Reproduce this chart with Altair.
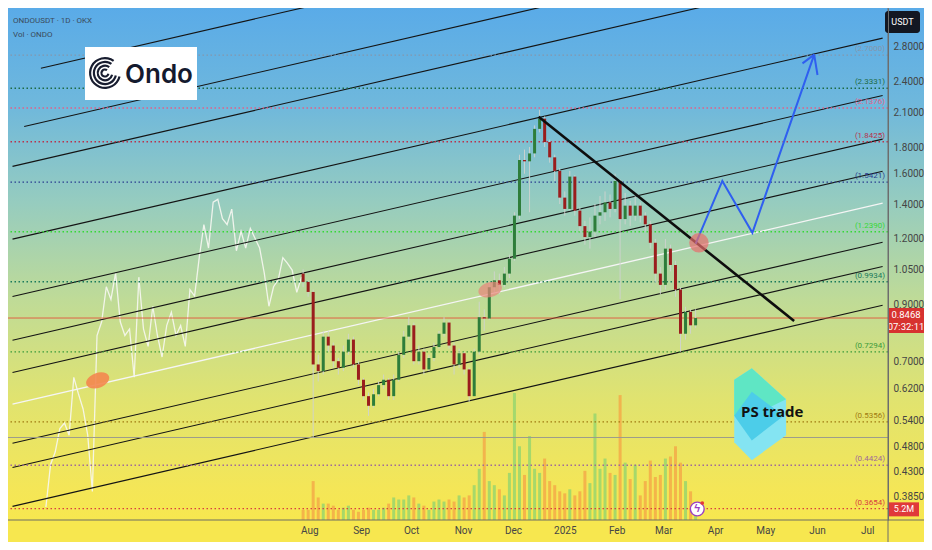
import altair as alt
import pandas as pd

W, H = 880, 512

# 3-day candles, 2024-07-28 .. 2025-03-20
closes = [0.993, 0.95, 0.69, 0.67, 0.78, 0.75, 0.70, 0.68, 0.73, 0.77,
          0.69, 0.645, 0.60, 0.575, 0.605, 0.63, 0.645, 0.60, 0.645, 0.72,
          0.78, 0.82, 0.70, 0.73, 0.675, 0.71, 0.745, 0.79, 0.83, 0.75,
          0.69, 0.725, 0.675, 0.60, 0.73, 0.85, 0.845, 0.97, 1.00, 0.98,
          1.03, 1.10, 1.33, 1.70, 1.69, 1.75, 1.95, 2.04, 1.84, 1.72,
          1.62, 1.44, 1.37, 1.58, 1.36, 1.27, 1.21, 1.24, 1.33, 1.35,
          1.41, 1.37, 1.55, 1.31, 1.39, 1.33, 1.39, 1.33, 1.28, 1.18,
          1.03, 0.98, 1.15, 1.07, 0.96, 0.79, 0.87, 0.82, 0.8468]
highs = [1.05, 1.00, 0.96, 0.72, 0.80, 0.80, 0.76, 0.71, 0.75, 0.79,
         0.78, 0.70, 0.65, 0.61, 0.62, 0.64, 0.66, 0.65, 0.66, 0.73,
         0.80, 0.85, 0.83, 0.75, 0.74, 0.72, 0.76, 0.80, 0.85, 0.84,
         0.76, 0.74, 0.73, 0.68, 0.74, 0.91, 0.88, 0.99, 1.04, 1.03,
         1.06, 1.12, 1.35, 1.74, 1.78, 1.80, 1.98, 2.12, 2.06, 1.86,
         1.74, 1.64, 1.48, 1.62, 1.59, 1.38, 1.30, 1.32, 1.40, 1.45,
         1.48, 1.46, 1.60, 1.56, 1.47, 1.42, 1.45, 1.41, 1.35, 1.30,
         1.20, 1.06, 1.20, 1.17, 1.09, 0.97, 0.89, 0.88, 0.88]
lows = [0.97, 0.93, 0.50, 0.64, 0.66, 0.73, 0.68, 0.66, 0.67, 0.72,
        0.68, 0.63, 0.59, 0.55, 0.57, 0.60, 0.62, 0.59, 0.59, 0.64,
        0.71, 0.77, 0.69, 0.69, 0.66, 0.67, 0.70, 0.74, 0.78, 0.74,
        0.66, 0.68, 0.66, 0.585, 0.60, 0.72, 0.80, 0.84, 0.95, 0.94,
        0.97, 1.01, 1.09, 1.31, 1.60, 1.35, 1.72, 1.92, 1.80, 1.68,
        1.55, 1.40, 1.33, 1.36, 1.33, 1.24, 1.17, 1.15, 1.21, 1.28,
        1.30, 1.32, 1.35, 0.92, 1.28, 1.27, 1.30, 1.29, 1.24, 1.15,
        0.99, 0.94, 0.96, 1.04, 0.93, 0.73, 0.77, 0.79, 0.81]
first_open = 1.03
volumes = [5, 5, 19, 11, 8, 8, 7, 5, 6, 7,
           5, 4, 5, 6, 5, 5, 6, 8, 11, 10,
           10, 12, 11, 8, 7, 5, 9, 10, 9, 10,
           9, 12, 11, 12, 17, 25, 43, 19, 17, 15,
           12, 23, 62, 36, 22, 41, 25, 23, 30, 19,
           17, 14, 13, 15, 12, 14, 24, 18, 52, 25,
           30, 23, 22, 61, 28, 20, 27, 12, 19, 29,
           21, 22, 30, 31, 36, 28, 19, 14, 5.2]

# earlier price history (white line), 2024-02-25 .. 2024-07-27
history = [0.368, 0.444, 0.469, 0.520, 0.533, 0.505, 0.652, 0.606, 0.567, 0.505,
           0.394, 0.784, 0.833, 0.972, 0.919, 1.032, 0.833, 0.784, 0.807, 0.652,
           1.014, 0.807, 0.747, 0.892, 0.784, 0.713, 0.819, 0.869, 0.784, 0.819,
           0.747, 0.960, 0.933, 1.105, 1.279, 1.153, 1.411, 1.429, 1.312, 1.279,
           1.369, 1.139, 1.241, 1.153, 1.257, 1.204, 1.153, 1.032, 0.892, 0.972,
           1.002, 1.105, 1.078, 1.046, 0.948, 1.014]

# rising channel lines
channel_start = ["2024-02-22", "2024-02-12", "2024-02-05", "2024-02-05", "2024-02-05", "2024-02-05",
                 "2024-02-05", "2024-02-05", "2024-02-05", "2024-02-05", "2024-02-05"]
channel_p0 = [2.548, 1.970, 1.653, 1.199, 0.931, 0.768, 0.666, 0.579, 0.4875, 0.438, 0.369]
channel_p1 = [6.00, 4.723, 4.013, 2.910, 2.260, 1.864, 1.618, 1.405, 1.183, 1.063, 0.896]
channel_end = "2025-07-10"
mid_line = 7

level_values = [2.7, 2.3331, 2.1376, 1.8425, 1.5421, 1.239, 0.9934, 0.7294, 0.5356, 0.4424, 0.3654]
level_labels = ["(2.7000)", "(2.3331)", "(2.1376)", "(1.8425)", "(1.5421)", "(1.2390)",
                "(0.9934)", "(0.7294)", "(0.5356)", "(0.4424)", "(0.3654)"]
level_colors = ["#8397ad", "#1d6b46", "#e0608a", "#b8334d", "#2a3d8f", "#36d836",
                "#1a7a5a", "#3a9a3a", "#a07a10", "#a06a9a", "#d84040"]

trend_dates = ["2024-12-16", "2025-05-18"]
trend_prices = [2.057, 0.836]

path_dates = ["2025-03-20", "2025-04-05", "2025-04-23", "2025-05-30"]
path_prices = [1.174, 1.55, 1.233, 2.705]
wing_dates = ["2025-05-23", "2025-06-01"]
wing_prices = [2.603, 2.473]

marker_dates = ["2025-03-22", "2024-11-17", "2024-03-27"]
marker_prices = [1.18, 0.96, 0.643]

last_price = 0.8468
last_volume = 5.2
ref_line = 0.50
y_ticks = [2.8, 2.4, 2.1, 1.8, 1.6, 1.4, 1.2, 1.05, 0.9, 0.7, 0.62, 0.54, 0.48, 0.43, 0.385]
month_dates = ["2024-08-01", "2024-09-01", "2024-10-01", "2024-11-01", "2024-12-01", "2025-01-01",
               "2025-02-01", "2025-03-01", "2025-04-01", "2025-05-01", "2025-06-01", "2025-07-01"]
month_names = ["Aug", "Sep", "Oct", "Nov", "Dec", "2025", "Feb", "Mar", "Apr", "May", "Jun", "Jul"]

# ---- tables ----
dates = pd.date_range("2024-07-28", "2025-03-20", periods=len(closes))
opens = [first_open] + closes[:-1]
candles = pd.DataFrame({"date": dates, "open": opens, "close": closes,
                        "high": highs, "low": lows, "vol": volumes})
candles["dir"] = ["up" if c >= o else "down" for o, c in zip(opens, closes)]

hist = pd.DataFrame({"date": pd.date_range("2024-02-25", "2024-07-27", periods=len(history)),
                     "price": history})

chan = pd.DataFrame({"start": channel_start, "end": [channel_end] * len(channel_start),
                     "p0": channel_p0, "p1": channel_p1})
chan_black = chan.drop(index=mid_line)
chan_white = chan.loc[[mid_line]]

levels = pd.DataFrame({"price": level_values, "label": level_labels})
trend = pd.DataFrame({"d0": [trend_dates[0]], "d1": [trend_dates[1]],
                      "p0": [trend_prices[0]], "p1": [trend_prices[1]]})
path = pd.DataFrame({"date": path_dates, "price": path_prices, "i": range(len(path_dates))})
wings = pd.DataFrame({"d0": [path_dates[-1]] * 2, "p0": [path_prices[-1]] * 2,
                      "d1": wing_dates, "p1": wing_prices})
months = pd.DataFrame({"date": month_dates, "name": month_names})
one = pd.DataFrame({"k": [0]})

xsc = alt.Scale(domain=[alt.DateTime(year=2024, month=2, date=5, hours=7),
                        alt.DateTime(year=2025, month=7, date=10, hours=5)])
ysc = alt.Scale(type="log", domain=[0.3475, 3.323], nice=False)
vsc = alt.Scale(domain=[0, 250])

yaxis = alt.Axis(orient="right", values=y_ticks, format=".4f", ticks=False, grid=False,
                 domainColor="#6d6d6d", labelColor="#454545", labelFont="Roboto",
                 labelFontSize=10, labelPadding=5, title=None, zindex=1)


def tx(field):
    return alt.X(field, type="temporal", scale=xsc, axis=None)


def ty(field, axis=None):
    return alt.Y(field, type="quantitative", scale=ysc, axis=axis)


bg_grad = alt.Gradient(
    gradient="linear", x1=0, x2=0, y1=0, y2=1,
    stops=[alt.GradientStop(color="#5aabe8", offset=0),
           alt.GradientStop(color="#6fb8dc", offset=0.19),
           alt.GradientStop(color="#96ccbf", offset=0.38),
           alt.GradientStop(color="#bfdb97", offset=0.57),
           alt.GradientStop(color="#e0e370", offset=0.76),
           alt.GradientStop(color="#f4e657", offset=0.94),
           alt.GradientStop(color="#f7e74f", offset=1)])

background = alt.Chart(one).mark_rect(fill=bg_grad).encode(
    x=alt.value(0), x2=alt.value(W + 36), y=alt.value(0), y2=alt.value(H))

# volume bars (own y scale)
vol_bars = alt.Chart(candles).mark_bar(width=3.0, opacity=0.8).encode(
    x=tx("date"),
    y=alt.Y("vol:Q", scale=vsc, axis=None),
    color=alt.Color("dir:N", scale=alt.Scale(domain=["up", "down"], range=["#93d46e", "#f4a847"]),
                    legend=None))
vol_box = alt.Chart(one).mark_rect(color="#e0393a", yOffset=-7, y2Offset=7).encode(
    x=alt.value(W + 1), x2=alt.value(W + 31),
    y=alt.Y(datum=last_volume, scale=vsc, axis=None), y2=alt.Y2(datum=last_volume))
vol_text = alt.Chart(one).mark_text(color="white", fontSize=9, font="Roboto", align="center").encode(
    x=alt.value(W + 16), y=alt.Y(datum=last_volume, scale=vsc, axis=None), text=alt.value("5.2M"))

hist_line = alt.Chart(hist).mark_line(color="#f7f7f2", strokeWidth=1.3, opacity=0.9).encode(
    x=tx("date"), y=ty("price"))

black_lines = alt.Chart(chan_black).mark_rule(color="#141414", strokeWidth=1.1, clip=True).encode(
    x=tx("start"), x2="end:T", y=ty("p0"), y2="p1:Q")
white_line = alt.Chart(chan_white).mark_rule(color="#f5f5f5", strokeWidth=1.3, clip=True).encode(
    x=tx("start"), x2="end:T", y=ty("p0"), y2="p1:Q")

lvl_color = alt.Color("label:N", scale=alt.Scale(domain=level_labels, range=level_colors), legend=None)
level_rules = alt.Chart(levels).mark_rule(strokeDash=[1.5, 2.5], strokeWidth=1.4).encode(
    y=ty("price"), color=lvl_color)
level_text = alt.Chart(levels).mark_text(align="right", baseline="bottom", dy=-2, fontSize=8,
                                         font="Roboto").encode(
    x=alt.value(W - 3), y=ty("price"), text="label:N", color=lvl_color)

price_line = alt.Chart(one).mark_rule(color="#e2563d", strokeWidth=1, opacity=0.9).encode(
    y=alt.Y(datum=last_price, scale=ysc, axis=None))
gray_line = alt.Chart(one).mark_rule(color="#9c9c8c", strokeWidth=1).encode(
    y=alt.Y(datum=ref_line, scale=ysc, axis=None))

wicks = alt.Chart(candles).mark_rule(color="#cfd3cf", strokeWidth=1, opacity=0.9).encode(
    x=tx("date"), y=ty("low", yaxis), y2="high:Q")
bodies = alt.Chart(candles).mark_bar(width=3.0).encode(
    x=tx("date"), y=ty("open"), y2="close:Q",
    color=alt.Color("dir:N", scale=alt.Scale(domain=["up", "down"], range=["#2e7d3a", "#9a1d1d"]),
                    legend=None))

trend_line = alt.Chart(trend).mark_rule(color="#0d0d0d", strokeWidth=2.6).encode(
    x=tx("d0"), x2="d1:T", y=ty("p0"), y2="p1:Q")
blue_path = alt.Chart(path).mark_line(color="#2f5ff0", strokeWidth=2).encode(
    x=tx("date"), y=ty("price"), order="i:Q")
blue_wings = alt.Chart(wings).mark_rule(color="#2f5ff0", strokeWidth=2).encode(
    x=tx("d0"), x2="d1:T", y=ty("p0"), y2="p1:Q")

ellipse = "M-1,0A1,0.62,0,1,1,1,0A1,0.62,0,1,1,-1,0Z"


def marker(i, **kw):
    d = pd.DataFrame({"date": [marker_dates[i]], "price": [marker_prices[i]]})
    return alt.Chart(d).mark_point(filled=True, **kw).encode(x=tx("date"), y=ty("price"))


markers = [marker(0, shape="circle", size=380, color="#e86c6c", opacity=0.7),
           marker(1, shape=ellipse, size=576, angle=345, color="#e9857a", opacity=0.7),
           marker(2, shape=ellipse, size=576, angle=340, color="#f3874f", opacity=0.9)]

# event icon
bolt_d = pd.DataFrame({"date": ["2025-03-21"]})
bolt_circle = alt.Chart(bolt_d).mark_point(shape="circle", filled=True, color="white", stroke="#9b3fc2",
                                           strokeWidth=1.4, size=190, opacity=1).encode(
    x=tx("date"), y=alt.value(H - 11))
bolt_glyph = alt.Chart(bolt_d).mark_text(text="ϟ", color="#9b3fc2", fontSize=11, fontWeight="bold").encode(
    x=tx("date"), y=alt.value(H - 11))
bolt_dot = alt.Chart(bolt_d).mark_point(shape="circle", filled=True, color="#e53935", size=14,
                                        xOffset=5, yOffset=-6, opacity=1).encode(
    x=tx("date"), y=alt.value(H - 11))

# time axis: divider lines and month labels
x_line = alt.Chart(one).mark_rule(color="#6f6f62").encode(
    x=alt.value(0), x2=alt.value(W + 36), y=alt.value(H))
y_line = alt.Chart(one).mark_rule(color="#6d6d6d").encode(
    x=alt.value(W), y=alt.value(0), y2=alt.value(H + 22))
month_text = alt.Chart(months).mark_text(font="Roboto", fontSize=10, color="#454545",
                                         baseline="middle").encode(
    x=tx("date"), y=alt.value(H + 11), text="name:N")

# Ondo logo
ondo_box = alt.Chart(one).mark_rect(color="white").encode(
    x=alt.value(77), x2=alt.value(189), y=alt.value(39), y2=alt.value(92))
rings = [alt.Chart(one).mark_arc(radius=r, radius2=r - 2.2, theta=1.8, theta2=6.9, color="#181d30").encode(
    x=alt.value(97), y=alt.value(65)) for r in (16, 12.2, 8.4, 4.6)]
ondo_text = alt.Chart(one).mark_text(text="Ondo", font="Inter", fontSize=26, fontWeight=600,
                                     color="#141a2e", align="left", baseline="middle").encode(
    x=alt.value(117), y=alt.value(67))

# PS trade logo
hexagon = "M-0.22,-0.99L0.52,-0.32L0.52,0.46L-0.22,1L-0.6,0.61L-0.6,-0.74Z"
upper = "M-0.22,-0.99L0.52,-0.32L-0.22,0.04L-0.6,0.04L-0.6,-0.74Z"
diamond = "M-0.22,-0.48L0.47,0.04L-0.22,0.57L-0.6,0.04Z"
ps_parts = [alt.Chart(one).mark_point(shape=s, filled=True, size=8575, color=c, opacity=1).encode(
    x=alt.value(754), y=alt.value(406))
    for s, c in ((hexagon, "#84e4f2"), (upper, "#5fe6c4"), (diamond, "#4ccde9"))]
ps_text = alt.Chart(one).mark_text(text="PS trade", font="Open Sans", fontSize=15, fontWeight="bold",
                                   color="#111111", align="left", baseline="middle").encode(
    x=alt.value(733), y=alt.value(404))

# header texts
title1 = alt.Chart(one).mark_text(text="ONDOUSDT · 1D · OKX", font="Roboto", fontSize=8, color="#3b4b5b",
                                  align="left").encode(x=alt.value(5), y=alt.value(13))
title2 = alt.Chart(one).mark_text(text="Vol · ONDO", font="Roboto", fontSize=8, color="#3b4b5b",
                                  align="left").encode(x=alt.value(5), y=alt.value(27))

# right axis badges
usdt_box = alt.Chart(one).mark_rect(color="#131722", cornerRadius=3).encode(
    x=alt.value(W - 3), x2=alt.value(W + 32), y=alt.value(3), y2=alt.value(25))
usdt_text = alt.Chart(one).mark_text(text="USDT", color="white", fontSize=9, font="Roboto").encode(
    x=alt.value(W + 14.5), y=alt.value(14))
price_box = alt.Chart(one).mark_rect(color="#d7322f", yOffset=-10, y2Offset=15).encode(
    x=alt.value(W), x2=alt.value(W + 36),
    y=alt.Y(datum=last_price, scale=ysc, axis=None), y2=alt.Y2(datum=last_price))
price_text = alt.Chart(one).mark_text(text="0.8468", color="white", fontSize=9.5, font="Roboto",
                                      dy=-3).encode(
    x=alt.value(W + 18), y=alt.Y(datum=last_price, scale=ysc, axis=None))
clock_text = alt.Chart(one).mark_text(text="07:32:11", color="white", fontSize=9.5, font="Roboto",
                                      dy=9).encode(
    x=alt.value(W + 18), y=alt.Y(datum=last_price, scale=ysc, axis=None))

chart = alt.layer(
    background, vol_bars, vol_box, vol_text,
    hist_line, black_lines, white_line, level_rules, level_text, price_line, gray_line,
    wicks, bodies, trend_line, blue_path, blue_wings, *markers,
    bolt_circle, bolt_glyph, bolt_dot, x_line, y_line, month_text,
    ondo_box, *rings, ondo_text, *ps_parts, ps_text, title1, title2,
    usdt_box, usdt_text, price_box, price_text, clock_text,
).resolve_scale(y="independent", color="independent").properties(
    width=W, height=H,
    autosize=alt.AutoSizeParams(type="none"),
    padding={"left": 0, "top": 0, "right": 36, "bottom": 22},
    background="#f7e74f",
).configure_view(stroke=None)

chart.save("out.html", embed_options={"renderer": "svg", "actions": False})
